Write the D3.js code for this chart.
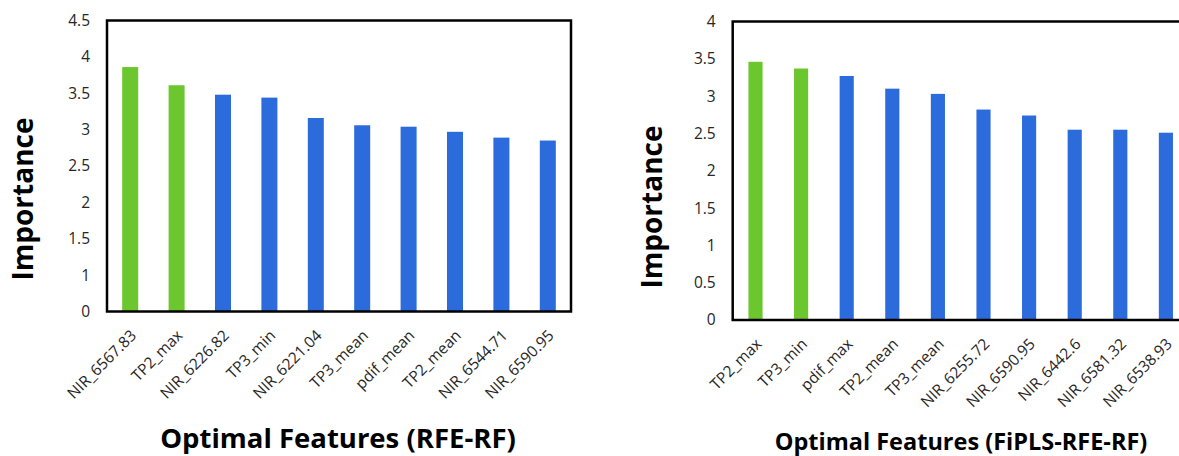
<!DOCTYPE html>
<html>
<head>
<meta charset="utf-8">
<script src="https://cdn.jsdelivr.net/npm/d3@7"></script>
<style>
  body { margin: 0; background: #fff; }
  text { font-family: "Open Sans", Lato, sans-serif; }
</style>
</head>
<body>
<div id="chart"></div>
<script>
// left panel: RFE-RF
const rfeFeatures = ["NIR_6567.83", "TP2_max", "NIR_6226.82", "TP3_min", "NIR_6221.04",
                     "TP3_mean", "pdif_mean", "TP2_mean", "NIR_6544.71", "NIR_6590.95"];
const rfeValues = [3.86, 3.61, 3.48, 3.44, 3.16, 3.06, 3.04, 2.97, 2.89, 2.85];
const rfeSelected = [true, true, false, false, false, false, false, false, false, false];
// the printed axis: lowest label reads "0" where 0.5 would sit
const rfeTicks = [0.5, 1, 1.5, 2, 2.5, 3, 3.5, 4, 4.5];
const rfeTickLabels = ["0", "1", "1.5", "2", "2.5", "3", "3.5", "4", "4.5"];

// right panel: FiPLS-RFE-RF
const fiplsFeatures = ["TP2_max", "TP3_min", "pdif_max", "TP2_mean", "TP3_mean",
                       "NIR_6255.72", "NIR_6590.95", "NIR_6442.6", "NIR_6581.32", "NIR_6538.93"];
const fiplsValues = [3.46, 3.37, 3.27, 3.1, 3.03, 2.82, 2.74, 2.55, 2.55, 2.51];
const fiplsSelected = [true, true, false, false, false, false, false, false, false, false];
const fiplsTicks = [0, 0.5, 1, 1.5, 2, 2.5, 3, 3.5, 4];
const fiplsTickLabels = ["0", "0.5", "1", "1.5", "2", "2.5", "3", "3.5", "4"];

const GREEN = "#6cc62d";
const BLUE = "#2c6bdb";

const svg = d3.select("#chart").append("svg")
    .attr("width", 1179)
    .attr("height", 456);

function panel(opts) {
    const x = d3.scaleBand()
        .domain(opts.features)
        .range([opts.left, opts.right])
        .paddingInner(opts.pad)
        .paddingOuter(opts.pad / 2);

    const y = d3.scaleLinear()
        .domain(opts.domain)
        .range([opts.bottom, opts.top]);

    const g = svg.append("g");

    // bars
    g.selectAll("rect.bar")
        .data(opts.values)
        .join("rect")
        .attr("class", "bar")
        .attr("x", (d, i) => x(opts.features[i]))
        .attr("width", x.bandwidth())
        .attr("y", d => y(d))
        .attr("height", d => y(opts.domain[0]) - y(d))
        .attr("fill", (d, i) => opts.selected[i] ? GREEN : BLUE);

    // y axis labels
    const yAxis = g.append("g")
        .attr("transform", `translate(${opts.left},0)`)
        .call(d3.axisLeft(y)
            .tickValues(opts.ticks)
            .tickSize(0)
            .tickPadding(opts.yPad)
            .tickFormat((d, i) => opts.tickLabels[i]));
    yAxis.select(".domain").remove();
    yAxis.selectAll("text")
        .style("font-family", "'Open Sans', sans-serif")
        .style("font-size", "15.5px")
        .attr("fill", "#262626");

    // x axis labels, slanted
    const xAxis = g.append("g")
        .attr("transform", `translate(0,${opts.bottom})`)
        .call(d3.axisBottom(x).tickSize(0).tickPadding(0));
    xAxis.select(".domain").remove();
    xAxis.selectAll("text")
        .style("font-family", "'Open Sans', sans-serif")
        .style("font-size", "15.5px")
        .attr("fill", "#262626")
        .attr("text-anchor", "end")
        .attr("dy", null)
        .attr("y", 0)
        .attr("transform", "translate(7,25) rotate(-45)");

    // frame
    g.append("rect")
        .attr("x", opts.left)
        .attr("y", opts.top)
        .attr("width", opts.right - opts.left)
        .attr("height", opts.bottom - opts.top)
        .attr("fill", "none")
        .attr("stroke", "#000")
        .attr("stroke-width", 2.5);

    // axis titles
    g.append("text")
        .attr("transform", `translate(${opts.yTitleX},${opts.yTitleY}) rotate(-90)`)
        .attr("text-anchor", "middle")
        .attr("dominant-baseline", "central")
        .style("font-size", "28px")
        .style("font-weight", "bold")
        .text("Importance");

    g.append("text")
        .attr("x", opts.xTitleX)
        .attr("y", opts.xTitleY)
        .attr("text-anchor", "middle")
        .style("font-size", opts.xTitleSize)
        .style("font-weight", "bold")
        .text(opts.xTitle);
}

panel({
    features: rfeFeatures, values: rfeValues, selected: rfeSelected,
    ticks: rfeTicks, tickLabels: rfeTickLabels, domain: [0.5, 4.5],
    left: 107, right: 571, top: 20.5, bottom: 311.5, pad: 0.655, yPad: 17,
    yTitleX: 22, yTitleY: 199,
    xTitle: "Optimal Features (RFE-RF)", xTitleX: 338, xTitleY: 448, xTitleSize: "27.5px"
});

panel({
    features: fiplsFeatures, values: fiplsValues, selected: fiplsSelected,
    ticks: fiplsTicks, tickLabels: fiplsTickLabels, domain: [0, 4],
    left: 732.7, right: 1188.7, top: 21.5, bottom: 320, pad: 0.69, yPad: 17,
    yTitleX: 651, yTitleY: 207,
    xTitle: "Optimal Features (FiPLS-RFE-RF)", xTitleX: 961, xTitleY: 450, xTitleSize: "23.5px"
});
</script>
</body>
</html>
